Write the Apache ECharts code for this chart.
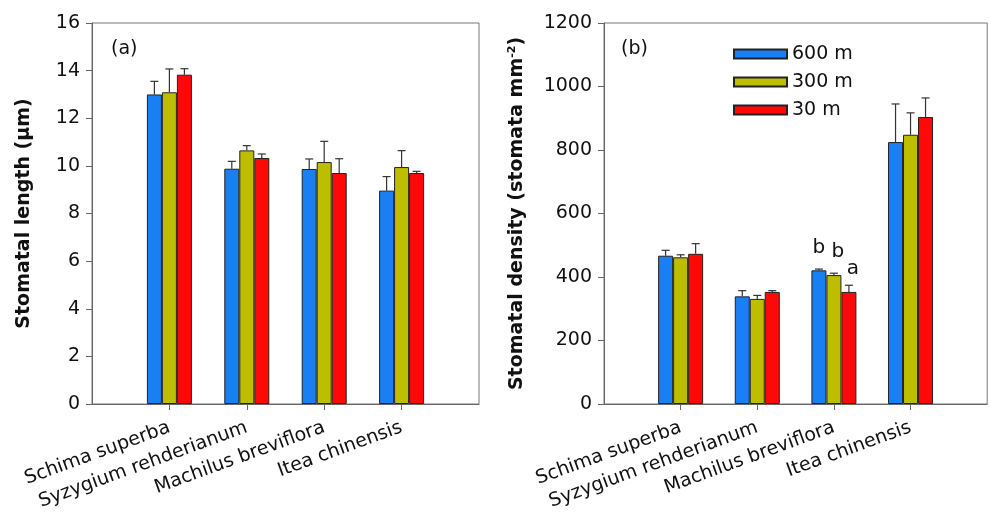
<!DOCTYPE html>
<html><head><meta charset="utf-8">
<script src="https://cdn.jsdelivr.net/npm/echarts@6/dist/echarts.min.js"></script>
<style>html,body{margin:0;padding:0;background:#fff}#c{width:990px;height:515px}</style>
</head><body><div id="c"></div>
<script>
const categories = ['Schima superba', 'Syzygium rehderianum', 'Machilus breviflora', 'Itea chinensis'];
const seriesNames = ['600 m', '300 m', '30 m'];
// Panel (a): stomatal length (µm)
const lengthMean600 = [13.0, 9.88, 9.87, 8.96];
const lengthMean300 = [13.09, 10.65, 10.16, 9.95];
const lengthMean30  = [13.83, 10.33, 9.70, 9.70];
const lengthErr600 = [0.55, 0.31, 0.42, 0.59];
const lengthErr300 = [0.98, 0.20, 0.87, 0.69];
const lengthErr30  = [0.25, 0.17, 0.60, 0.07];
// Panel (b): stomatal density (stomata mm^-2)
const densityMean600 = [467, 339, 421, 825];
const densityMean300 = [462, 331, 406, 848];
const densityMean30  = [473, 353, 353, 904];
const densityErr600 = [17, 18, 4, 120];
const densityErr300 = [8, 11, 6, 69];
const densityErr30  = [32, 4, 21, 60];
// significance letters (panel b, Machilus breviflora)
const letterCategory = 'Machilus breviflora';
const letters = ['b', 'b', 'a'];
const lengthTicks = {min: 0, max: 16, interval: 2};
const densityTicks = {min: 0, max: 1200, interval: 200};

const colors = ['#1a7ff2', '#bebe00', '#ff0808'];
const FONT = 'DejaVu Sans';
const BW = 15;
const paddedCats = [''].concat(categories, ['']);
function pad(arr) { return [null].concat(arr, [null]); }

function barSeries(name, idx, means, axisIdx, withLetters) {
  const data = pad(means).map((v, i) => {
    if (v === null) return null;
    if (withLetters && paddedCats[i] === letterCategory) {
      return {value: v, label: {show: true, formatter: letters[idx], position: 'top', distance: 13,
        offset: [idx === 0 ? 0 : 4, 0], fontFamily: FONT, fontSize: 20, color: '#111'}};
    }
    return v;
  });
  return {
    type: 'bar', name: name, xAxisIndex: axisIdx, yAxisIndex: axisIdx,
    data: data, barWidth: BW, barGap: '0%',
    itemStyle: {color: colors[idx], borderColor: '#222', borderWidth: 1},
    emphasis: {disabled: true}, animation: false, z: 2
  };
}

function errSeries(meansList, errList, axisIdx) {
  const data = [];
  meansList.forEach((means, s) => {
    means.forEach((m, i) => data.push([i + 1, m, m + errList[s][i], s]));
  });
  return {
    type: 'custom', xAxisIndex: axisIdx, yAxisIndex: axisIdx, data: data, animation: false, z: 3,
    silent: true,
    renderItem: function (params, api) {
      const c = api.value(0), m = api.value(1), t = api.value(2), s = api.value(3);
      const p0 = api.coord([c, m]);
      const p1 = api.coord([c, t]);
      const x = p0[0] + (s - 1) * BW;
      const st = {stroke: '#333', lineWidth: 1.2};
      return {type: 'group', children: [
        {type: 'line', shape: {x1: x, y1: p0[1], x2: x, y2: p1[1]}, style: st},
        {type: 'line', shape: {x1: x - 4, y1: p1[1], x2: x + 4, y2: p1[1]}, style: st}
      ]};
    }
  };
}

function xAxis(gridIndex) {
  return {
    type: 'category', gridIndex: gridIndex, data: paddedCats, boundaryGap: false,
    axisLine: {lineStyle: {color: '#666', width: 1}},
    axisTick: {show: true, length: 6, inside: false, lineStyle: {color: '#666'},
      interval: function (i) { return i > 0 && i < paddedCats.length - 1; }},
    axisLabel: {interval: 0, rotate: 20, fontFamily: FONT, fontSize: 19, color: '#111', margin: 23},
    splitLine: {show: false}
  };
}
function yAxis(gridIndex, ticks, name, nameGap) {
  return {
    type: 'value', gridIndex: gridIndex, min: ticks.min, max: ticks.max, interval: ticks.interval,
    name: name, nameLocation: 'middle', nameGap: nameGap,
    nameTextStyle: {fontFamily: FONT, fontSize: 19, fontWeight: 'bold', color: '#111',
      rich: {sup: {fontFamily: FONT, fontSize: 11, fontWeight: 'bold', color: '#111', verticalAlign: 'top', padding: [0, 0, 10, 0]}}},
    axisLine: {show: true, lineStyle: {color: '#666', width: 1}},
    axisTick: {show: true, length: 6, lineStyle: {color: '#666'}},
    axisLabel: {fontFamily: FONT, fontSize: 19, color: '#111', margin: 12,
      formatter: function (v) { return String(v); }},
    splitLine: {show: false}
  };
}

const chart = echarts.init(document.getElementById('c'), null, {renderer: 'canvas'});
chart.setOption({
  backgroundColor: '#fff',
  animation: false,
  grid: [
    {left: 92, top: 23, width: 387, height: 381, show: true, borderColor: '#777', borderWidth: 1},
    {left: 604, top: 23, width: 385, height: 381, show: true, borderColor: '#777', borderWidth: 1}
  ],
  legend: {
    data: seriesNames, orient: 'vertical', left: 733, top: 44, padding: 0, itemWidth: 53, itemHeight: 9,
    itemGap: 8, itemTextGap: 15, icon: 'rect',
    textStyle: {fontFamily: FONT, fontSize: 19, color: '#111', lineHeight: 20}
  },
  graphic: [
    {type: 'text', left: 111, top: 40, style: {text: '(a)', font: '19px "DejaVu Sans"', fill: '#111'}},
    {type: 'text', left: 621, top: 40, style: {text: '(b)', font: '19px "DejaVu Sans"', fill: '#111'}}
  ],
  xAxis: [xAxis(0), xAxis(1)],
  yAxis: [
    yAxis(0, lengthTicks, 'Stomatal length (µm)', 58),
    yAxis(1, densityTicks, 'Stomatal density (stomata mm{sup|-2})', 76)
  ],
  series: [
    barSeries(seriesNames[0], 0, lengthMean600, 0, false),
    barSeries(seriesNames[1], 1, lengthMean300, 0, false),
    barSeries(seriesNames[2], 2, lengthMean30, 0, false),
    errSeries([lengthMean600, lengthMean300, lengthMean30], [lengthErr600, lengthErr300, lengthErr30], 0),
    barSeries(seriesNames[0], 0, densityMean600, 1, true),
    barSeries(seriesNames[1], 1, densityMean300, 1, true),
    barSeries(seriesNames[2], 2, densityMean30, 1, true),
    errSeries([densityMean600, densityMean300, densityMean30], [densityErr600, densityErr300, densityErr30], 1)
  ]
});
</script></body></html>
